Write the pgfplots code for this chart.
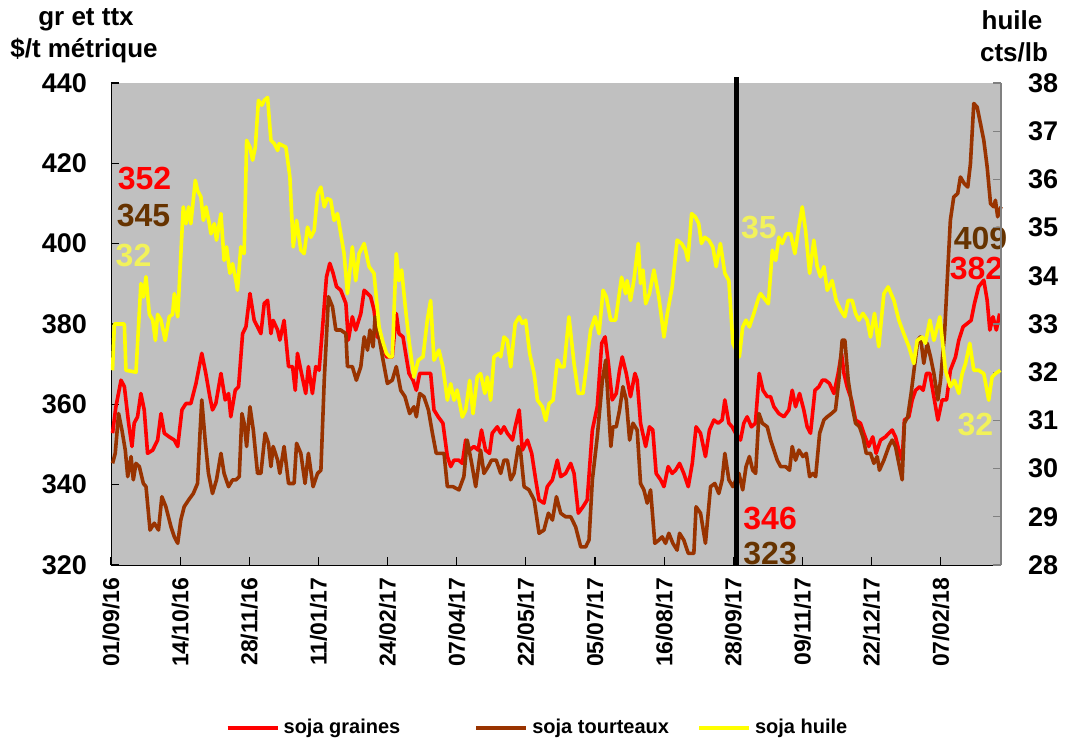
\documentclass[border=0pt]{standalone}
\usepackage{fontspec}
\setmainfont{Liberation Sans}
\usepackage{pgfplots}
\usepackage{pgfplotstable}
\pgfplotsset{compat=1.18}

\definecolor{graines}{HTML}{FF0000}
\definecolor{tourteaux}{HTML}{993300}
\definecolor{huile}{HTML}{FFFF00}
\definecolor{txtbrun}{HTML}{663300}
\definecolor{txtjaune}{HTML}{F2F25A}
\definecolor{fond}{HTML}{C0C0C0}

% x = index des jours ouvres depuis le 01/09/16
\pgfplotstableread{
x y
0.7 352.8
2.2 359.4
4.5 366.0
6 364.4
7.9 355.3
9.4 349.5
10.4 355.3
11.9 356.9
13.4 362.7
14.9 358.6
16.4 347.8
18.7 348.6
20.9 351.1
22.4 357.7
23.9 352.8
26.1 351.9
28.4 351.1
29.9 349.5
31.8 358.6
33.6 360.2
35.8 360.2
38.1 365.2
40.7 372.7
42.5 367.7
44.3 361.9
45.5 358.6
47 360.2
49.3 367.7
51.2 361.1
52.7 362.7
53.7 356.9
55.7 363.5
57.2 364.4
59 377.6
60.5 379.3
62.3 387.6
64.2 380.9
65.7 379.3
67.2 377.6
68.7 385.1
70.2 385.9
71.7 377.6
72.7 380.9
74.7 378.5
75.7 376.0
77.6 380.9
79.6 369.4
81.4 369.4
82.6 363.5
83.6 372.7
85.1 368.5
87.3 362.7
88.5 369.4
90.3 362.7
91.8 369.4
93.3 368.5
95.1 380.9
96.6 391.7
98.1 395.1
99.6 392.6
101.1 389.3
103 388.4
105.3 385.1
106.4 376.0
108.2 381.8
109.7 378.5
112 382.6
113.5 388.4
115 387.6
116.4 386.8
117.9 383.5
119.4 376.8
121.4 376.0
123.5 371.8
126.1 371.8
127.9 382.6
129.1 377.6
130.9 376.8
132.1 372.7
133.6 367.7
135.4 366.0
136.9 363.5
138.4 367.7
141.1 367.7
143.3 367.7
144.8 358.6
146.7 356.9
148.8 355.3
150.8 347.0
152.3 344.5
153.8 346.1
155.9 346.1
157.5 345.3
159 351.1
160.8 348.6
162.7 349.5
164.6 348.6
166.1 353.6
167.9 348.6
169.7 347.8
170.9 352.8
173.2 354.4
174.7 352.8
176.2 354.4
177.7 352.8
180 351.1
181.2 354.4
183 358.6
184.4 348.6
186.7 351.1
188.6 347.8
190.4 341.2
191.9 336.2
194.1 335.4
195.6 339.5
197.9 341.2
200.1 346.1
201.6 342.0
203.8 342.8
206.1 345.3
207.6 342.8
209.5 332.9
211.6 334.5
213.5 336.2
215.8 353.6
218 359.4
220 375.2
221.5 376.8
223 370.2
224.7 361.1
226.5 362.7
228 368.5
229.2 371.8
231 367.7
232.9 361.9
234.9 367.7
235.9 366.0
237.4 355.3
239.7 349.5
241.4 354.4
242.9 353.6
244.4 342.8
246.4 341.2
247.9 339.5
249.8 344.5
251.6 342.8
253.1 343.6
254.9 345.3
256.8 342.8
258.8 339.5
260.6 345.3
262.3 354.4
264.3 352.8
266.5 347.0
268.3 353.6
270.3 356.1
272.2 355.3
274 356.1
275.2 361.1
277 355.3
278.5 354.4
280 352.8
282.2 351.1
283.7 355.3
285.2 356.9
287.1 354.4
288.9 355.3
290.6 367.7
292.3 363.5
294.2 361.9
295.7 361.9
297.2 359.4
299.4 357.7
301.7 356.9
303.9 358.6
305.4 363.5
306.9 359.4
308.7 362.7
310.6 358.6
312.1 354.4
313.6 352.8
315.6 363.5
317.4 364.4
318.9 366.0
320.3 366.0
322.1 365.2
324.1 362.7
326 367.7
327.5 372.7
328.6 367.7
330 364.4
332 361.1
333.8 356.1
336 355.3
337.5 352.8
339.7 349.5
341.5 351.9
343 347.8
345 351.1
347.2 351.9
348.7 352.8
350.2 353.6
351.7 351.9
353.2 348.6
354.7 346.1
355.7 356.1
357.7 356.9
359.2 361.1
360.7 363.5
362.6 364.4
364.1 363.5
365.6 367.7
367.1 367.7
368.9 361.9
370.7 356.1
372.6 361.1
374.6 361.1
376.3 368.5
378.6 371.8
380.1 376.0
382 379.3
383.8 380.1
385.6 380.9
387.1 385.1
389 389.3
391.3 390.9
392.8 385.9
394 378.5
395.4 381.8
396.9 378.5
398.4 382.6
}\graines

\pgfplotstableread{
x y
0.7 345.3
1.9 347.8
3.4 357.7
4.9 353.6
6.4 348.6
7.5 342.0
9 347.0
10 341.2
11.2 345.3
12.7 344.5
14.5 340.3
15.7 339.5
17.5 328.7
19.4 330.4
21.3 328.7
22.8 337.0
24.6 334.5
26.9 329.5
28.4 327.0
29.9 325.4
31.3 331.2
32.8 334.5
34.8 336.2
36.9 337.8
38.8 340.3
39.9 352.8
40.7 361.1
42.2 351.1
43.7 342.8
45.5 337.8
47.3 341.2
49.3 347.8
50.7 342.8
52.7 339.5
54.5 341.2
56 341.2
57.5 342.0
58.7 357.7
59.7 355.3
60.8 349.5
62.3 359.4
63.8 353.6
65.7 342.8
67.2 342.8
69.1 352.8
70.6 350.3
71.7 344.5
72.7 349.5
74.7 346.1
75.7 342.8
77.6 349.5
79.6 340.3
82.1 340.3
83.2 350.3
85.1 347.8
87 340.3
88.5 347.8
90.6 339.5
92.6 342.8
94.1 343.6
95.6 366.0
97.5 386.8
99.3 384.3
100.8 378.5
103 378.5
105.3 377.6
106 369.4
108.2 369.4
110 366.0
112 369.4
113.5 376.8
115 373.5
116.1 378.5
117.5 374.3
118.4 381.8
119.9 377.6
121.7 371.8
123.9 365.2
126.1 366.0
127.9 369.4
129.9 363.5
131.8 361.9
133.9 357.7
135.8 359.4
136.9 356.9
138.4 362.7
140.3 361.9
142.3 358.6
144.1 352.8
145.8 347.8
149.3 347.8
150.8 339.5
153.3 339.5
156 338.7
158.2 342.0
159.7 351.1
161.7 345.3
163.5 339.5
165.7 348.6
167.2 342.8
169.1 344.5
170.6 346.1
172.7 346.1
174.7 342.8
176.2 346.1
177.7 346.1
179.2 341.2
180.7 342.8
182.6 349.5
183.7 347.8
185.2 339.5
187.4 338.7
189.7 336.2
191.9 327.9
194.1 328.7
196.1 332.9
197.9 331.2
199.7 337.0
201.6 332.9
203.8 332.0
206.1 332.0
208.3 329.5
210.6 324.5
212.8 324.5
214.3 326.2
215.8 341.2
218 351.9
220.3 366.0
221.8 371.0
223.2 357.7
224.1 349.5
225 354.4
226.5 354.4
228 358.6
229.5 364.4
231 361.1
232.5 351.1
234 355.3
235.9 353.6
237.4 340.3
238.9 338.7
240.4 335.4
241.9 338.7
243.8 325.4
245.6 326.2
247.1 327.0
248.6 325.4
250.1 327.9
251.9 325.4
253.8 323.7
254.9 327.9
256.8 326.2
258.8 322.9
261.3 322.9
262.3 334.5
264.3 332.9
266.5 325.4
268.8 339.5
270.7 340.3
272.5 337.8
274 341.2
275.2 347.8
277 341.2
278.8 339.5
281.5 342.8
283.2 338.7
284.7 344.5
286.2 347.0
287.7 343.6
289 342.8
290.5 357.7
292 355.3
294.2 354.4
295.7 351.1
297.2 348.6
298.7 346.1
300.2 344.5
302.4 344.5
304.2 343.6
305.4 349.5
306.9 346.1
308.4 348.6
310.2 347.0
311.7 347.8
313.2 342.0
314.7 342.8
315.9 342.0
317.7 352.8
319.6 356.1
321.1 356.9
323 357.7
324.8 358.6
326.3 366.0
327.8 376.0
329 376.0
330.5 366.0
332.3 359.4
333.8 355.3
335.6 354.4
337.1 351.9
338.6 347.8
340.5 347.8
342 345.3
343.5 347.0
344.5 343.6
346.5 346.1
348.7 349.5
350.2 351.1
351.7 349.5
353.2 345.3
354.7 341.2
355.7 355.3
357.2 356.9
358.7 362.7
360.2 369.4
361.7 376.0
362.9 376.8
364.4 370.2
365.9 375.2
367.4 371.8
368.9 367.7
370.7 361.1
371.9 366.0
373.7 377.6
374.9 390.9
376.3 405.8
377.8 411.6
379.6 412.5
380.8 416.6
382.6 414.9
384.1 414.1
385.3 419.9
386.8 434.9
388.3 434.0
389.8 429.9
391.3 425.7
392.8 419.1
394.3 410.0
395.7 409.2
396.5 410.8
397.5 406.7
399 409.2
}\tourteaux

\pgfplotstableread{
x y
0.7 32.04
1.5 33.0
6 33.0
6.7 32.04
11.2 32.0
13.4 33.84
14.5 33.56
15.7 33.98
17.2 33.2
18.7 33.08
19.9 32.66
20.9 33.2
22.4 33.08
24.3 32.66
26.1 33.15
27.6 33.2
28.4 33.63
29.9 33.15
32.4 35.43
33.6 35.08
34.8 35.43
35.8 35.08
37.8 35.98
38.8 35.77
40.3 35.64
41.4 35.15
42.6 35.43
44.1 35.08
44.8 34.87
46.3 35.08
47.3 34.74
49.3 35.29
50.7 34.32
51.8 34.6
53.3 34.05
54.5 34.25
56 33.9
56.7 33.7
58.2 34.6
59.7 34.46
60.8 36.81
62.3 36.67
63.5 36.4
64.7 36.67
66.1 37.64
67.6 37.54
68.7 37.64
70.2 37.7
71.7 36.81
73.2 36.74
74.7 36.6
75.4 36.74
78.4 36.67
80.2 36.05
81.7 34.6
83.2 35.15
85.1 34.53
86.6 34.46
88.1 35.01
89.6 34.8
91.1 34.94
92.6 35.7
94.1 35.84
95.6 35.43
97 35.6
98.5 35.57
100 35.15
101.5 35.29
104.5 34.46
106 33.63
108.2 34.6
109.7 33.9
111.2 34.46
113.5 34.67
115.7 34.19
117.9 34.05
120.2 32.94
121.7 32.66
123.5 32.39
124.9 32.32
126.1 32.32
127.9 34.46
129.1 33.9
130.3 34.12
131.8 33.42
133.6 32.66
135.8 31.9
137.8 32.25
139.9 32.32
141.8 33.08
143.3 33.49
144.8 32.25
147 32.46
148.8 32.11
150.8 31.42
152.3 31.76
153.8 31.42
155.2 31.63
157.5 31.07
159 31.21
160.8 31.83
162.3 31.14
164.2 31.9
165.7 31.97
167.6 31.56
168.7 31.9
170.2 31.42
171.7 32.32
173.9 32.39
174.7 32.32
176.2 32.73
177.7 32.66
179.2 32.11
181.2 33.01
183 33.15
184.4 33.01
185.9 33.08
187.7 32.39
189.7 31.97
191.2 31.42
193.4 31.28
194.9 31.0
196.4 31.35
198.2 31.42
200.1 32.25
201.6 32.11
203.1 32.11
205.3 33.15
207.6 32.18
209.5 31.56
211.6 31.56
213.1 32.11
215 32.87
217 33.15
218.8 32.8
220.6 33.7
222.1 33.56
224 33.08
226.2 33.08
228.9 33.97
230.7 33.63
231.4 33.9
232.9 33.49
234.4 33.9
236.4 34.67
237.4 33.84
238.5 34.12
239.7 33.42
241.4 33.63
243.4 34.12
245.6 33.56
247.9 32.73
249.4 33.22
251.6 33.77
253.8 34.74
255.8 34.67
257.6 34.53
258.6 34.32
260.3 35.29
262 35.22
263.5 35.08
264.7 34.67
266.2 34.8
268 34.74
269.8 34.6
271.3 34.19
273.2 34.67
275.2 34.05
277 33.9
278.8 32.6
281.7 32.32
283.2 32.94
284.7 33.08
286.2 32.94
288.2 33.22
290.4 33.56
291.2 33.63
293.5 33.49
294.7 33.42
296.5 34.53
298 34.32
299.4 34.8
300.9 34.67
302.7 34.87
304.7 34.87
306.6 34.46
308.1 34.94
309.9 35.43
311.4 34.94
313.2 34.05
315.1 34.74
316.6 34.19
318.1 33.98
319.6 34.19
321.1 33.7
323.3 33.9
325.1 33.49
327.1 33.29
329 33.15
330.5 33.49
332.3 33.49
333.8 33.22
335.3 33.08
337.1 33.22
339 33.08
340.5 32.73
342.3 33.22
344.2 32.53
346.5 33.63
348.4 33.77
351 33.49
353.2 33.08
355.4 32.8
357.7 32.53
359.9 32.18
361.4 32.66
363.7 32.73
365.1 32.6
367.1 33.08
368.9 32.66
371.6 33.15
374.1 32.04
376.3 31.7
378.1 31.83
380.1 31.56
381.6 31.97
383.1 32.18
385 32.6
386.8 32.04
389 32.04
391.3 31.97
393.5 31.42
395 31.9
396.5 31.97
398.7 32.04
}\huile

\begin{document}
\begin{tikzpicture}
\useasboundingbox (-55.5pt,-87pt) rectangle (477.5pt,282.5pt);

\pgfplotsset{
  base/.style={
    scale only axis, width=445pt, height=241pt,
    xmin=0, xmax=399,
    tick align=inside, major tick length=4pt,
    /pgf/number format/assume math mode=true,
    clip=false,
    every axis plot/.append style={line width=1.8pt, line join=round},
  },
}

% axe de gauche : graines et tourteaux
\begin{axis}[
  base,
  ymin=320, ymax=440,
  axis x line*=bottom, axis y line*=left,
  axis background/.style={fill=fond},
  ytick={320,340,...,440},
  xtick={0,31,...,372},
  xticklabels={01/09/16,14/10/16,28/11/16,11/01/17,24/02/17,07/04/17,22/05/17,05/07/17,16/08/17,28/09/17,09/11/17,22/12/17,07/02/18},
  tick style={black, line width=0.6pt},
  x tick label style={font=\fontsize{11.5}{12}\selectfont\bfseries, yshift=-2.7pt, rotate=90, anchor=east},
  y tick label style={font=\fontsize{13.5}{14}\selectfont\bfseries, xshift=-8.5pt},
]
\addplot[graines] table {\graines};
\addplot[tourteaux] table {\tourteaux};

\node[font=\fontsize{16}{16}\selectfont\bfseries, text=graines] at (axis cs:15,416.2) {352};
\node[font=\fontsize{16}{16}\selectfont\bfseries, text=txtbrun] at (axis cs:14.6,407.1) {345};
\node[font=\fontsize{16}{16}\selectfont\bfseries, text=txtjaune] at (axis cs:10.1,397.1) {32};
\node[font=\fontsize{16}{16}\selectfont\bfseries, text=txtjaune] at (axis cs:290.5,404) {35};
\node[font=\fontsize{16}{16}\selectfont\bfseries, text=txtbrun] at (axis cs:389.8,401.2) {409};
\node[font=\fontsize{16}{16}\selectfont\bfseries, text=graines] at (axis cs:388,393.9) {382};
\node[font=\fontsize{16}{16}\selectfont\bfseries, text=txtjaune] at (axis cs:387.5,354.9) {32};
\node[font=\fontsize{16}{16}\selectfont\bfseries, text=graines] at (axis cs:295.5,331.6) {346};
\node[font=\fontsize{16}{16}\selectfont\bfseries, text=txtbrun] at (axis cs:295.5,322.9) {323};
\end{axis}

% axe de droite : huile
\begin{axis}[
  base,
  ymin=28, ymax=38,
  axis x line=none, axis y line*=right,
  y axis line style={gray, line width=0.6pt},
  ytick={28,...,38},
  ytick style={gray, line width=0.6pt},
  y tick label style={font=\fontsize{13.5}{14}\selectfont\bfseries, xshift=10pt},
  legend columns=3,
  legend style={at={(0.4803,-0.338)}, anchor=center, draw=none, fill=none,
    font=\fontsize{10}{12}\selectfont\bfseries,
    /tikz/column 2/.style={column sep=35pt},
    /tikz/column 4/.style={column sep=12pt}},
  legend image code/.code={\draw[#1, line width=2pt] (0pt,0pt) -- (25pt,0pt);},
]
\addlegendimage{graines}
\addlegendentry{soja graines}
\addlegendimage{tourteaux}
\addlegendentry{soja tourteaux}
\addplot[huile] table {\huile};
\addlegendentry{soja huile}
\addplot[black, line width=2.6pt, forget plot] coordinates {(280.5,28) (280.5,38.12)};
\end{axis}

\node[anchor=base, font=\fontsize{13}{15}\selectfont\bfseries] at (-12.5pt,269.5pt) {gr et ttx};
\node[anchor=base, font=\fontsize{13}{15}\selectfont\bfseries] at (-13.5pt,253.5pt) {\$/t métrique};
\node[anchor=base, font=\fontsize{13}{15}\selectfont\bfseries] at (450.5pt,267.5pt) {huile};
\node[anchor=base, font=\fontsize{13}{15}\selectfont\bfseries] at (451.5pt,251.5pt) {cts/lb};
\end{tikzpicture}
\end{document}
